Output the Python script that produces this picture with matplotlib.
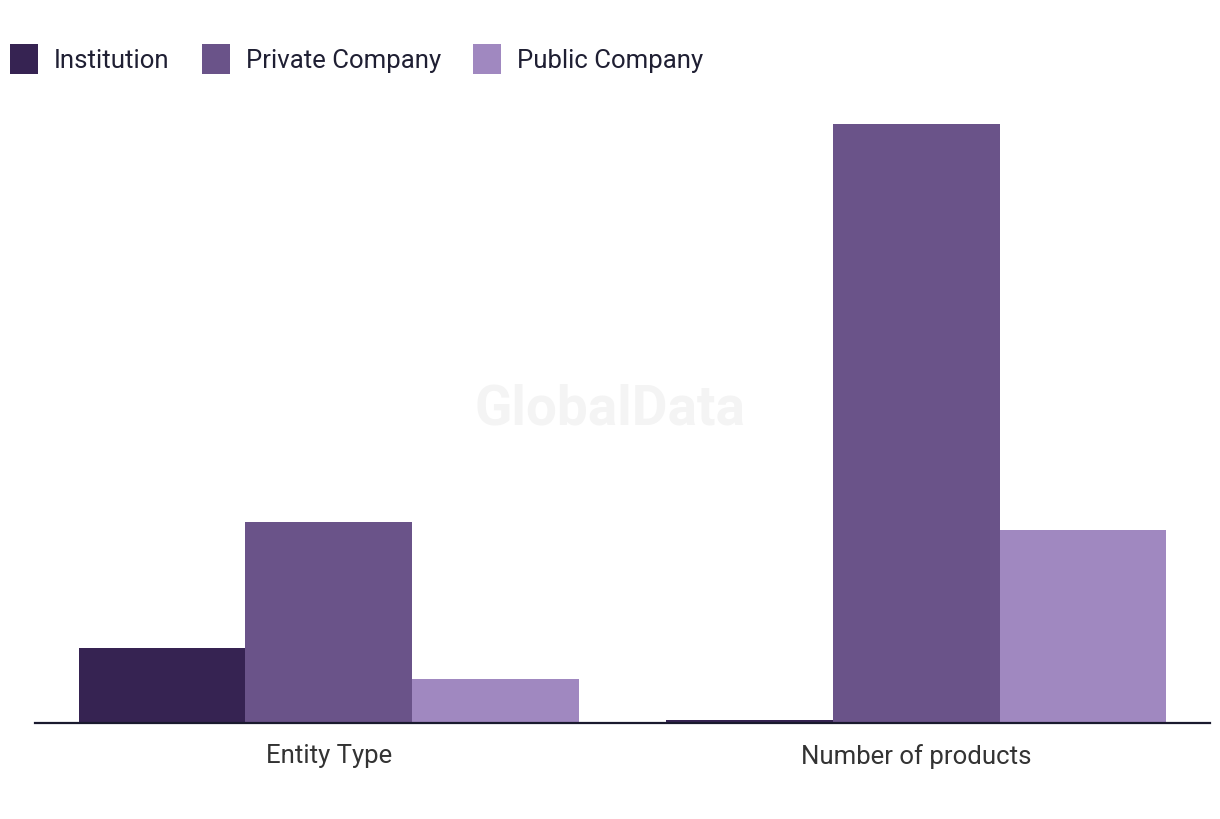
"""Entity type / number of products grouped bar chart."""

import matplotlib

matplotlib.use("Agg", force=True)
import matplotlib.pyplot as plt
import numpy as np

plt.rcParams["font.family"] = ["Roboto", "DejaVu Sans"]

categories = ["Entity Type", "Number of products"]
series_names = ["Institution", "Private Company", "Public Company"]
institution = [75, 3]
private_company = [201, 599]
public_company = [44, 193]
colors = ["#362352", "#6a5389", "#a088c0"]

fig = plt.figure(figsize=(12.2, 8.2), dpi=100)
ax = fig.add_axes([35 / 1220, 96 / 820, 1175 / 1220, 623 / 820])

x = np.arange(len(categories))
width = 0.2836
for i, (name, vals) in enumerate(zip(series_names, [institution, private_company, public_company])):
    ax.bar(x + (i - 1) * width, vals, width, color=colors[i], label=name, zorder=2)

ax.set_xlim(-0.5, 1.5)
ax.set_ylim(0, 623)
ax.set_yticks([])
ax.set_xticks(x)
ax.set_xticklabels(categories, fontsize=18.5, color="#333333")
ax.tick_params(axis="x", length=0, pad=14.5)
for side in ["top", "right", "left"]:
    ax.spines[side].set_visible(False)
ax.spines["bottom"].set_color("#1a1a2e")
ax.spines["bottom"].set_linewidth(1.6)
ax.spines["bottom"].set_zorder(3)

fig.text(610 / 1220, 1 - 410 / 820, "GlobalData", fontsize=39.5, fontweight="bold",
         color="#f4f4f4", ha="center", va="center", zorder=0)

leg = fig.legend(loc="upper left", bbox_to_anchor=(10 / 1220, 1 - 45 / 820), ncol=3, frameon=False,
                 fontsize=18.5, handlelength=1.09, handleheight=1.4, handletextpad=0.62,
                 columnspacing=1.25, borderaxespad=0, borderpad=0)
for t in leg.get_texts():
    t.set_color("#1f1f33")

fig.savefig("out.png", dpi=100)
plt.close(fig)
